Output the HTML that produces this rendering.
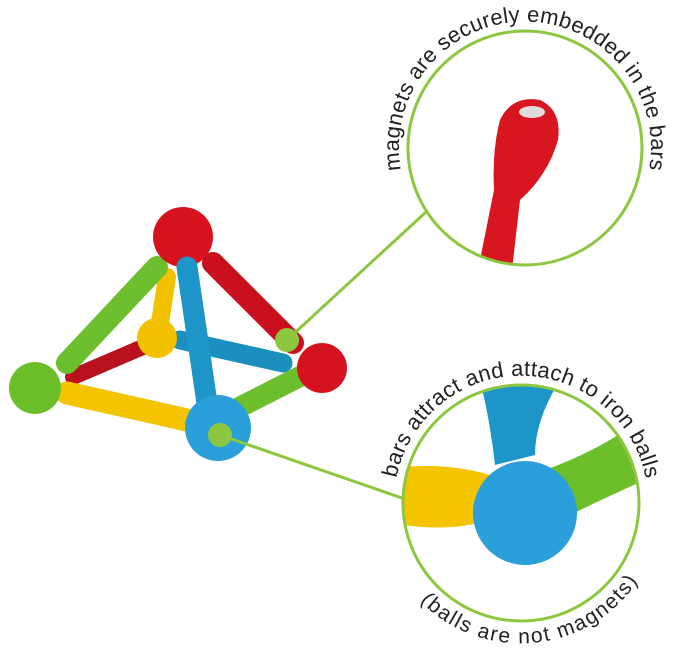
<!DOCTYPE html>
<html><head><meta charset="utf-8"><style>
html,body{margin:0;padding:0;background:#fff;}
svg{display:block;}
text{font-family:"Liberation Sans",sans-serif;fill:#222;}
</style></head><body>
<svg width="679" height="651" viewBox="0 0 679 651" xmlns="http://www.w3.org/2000/svg">
<defs>
<clipPath id="c1"><circle cx="525" cy="148" r="117"/></clipPath>
<clipPath id="c2"><circle cx="521" cy="503" r="118"/></clipPath>
<path id="p1" d="M 401 170 A 126 126 0 1 1 649 170"/>
<path id="p2" d="M 394.5 514 A 127 127 0 1 1 647.5 514"/>
<path id="p3" d="M 420 601 A 141 141 0 0 0 645 569"/>
</defs>
<g stroke-linecap="round" fill="none">
<line x1="167" y1="277" x2="160" y2="323" stroke="#f2c200" stroke-width="18"/>
<line x1="73" y1="377" x2="143" y2="347" stroke="#b8101c" stroke-width="16"/>
<line x1="180" y1="340" x2="283" y2="363" stroke="#1d8fbf" stroke-width="19"/>
</g>
<circle cx="157" cy="338" r="20" fill="#f2c200"/>
<g stroke-linecap="round" fill="none">
<line x1="157" y1="267" x2="67" y2="363" stroke="#6dbf2e" stroke-width="22"/>
<line x1="213" y1="263" x2="293" y2="343" stroke="#c8101e" stroke-width="22"/>
<line x1="67" y1="393" x2="187" y2="420" stroke="#f5c400" stroke-width="23"/>
<line x1="240" y1="407" x2="307" y2="373" stroke="#6dbf2e" stroke-width="21"/>
</g>
<circle cx="183" cy="237" r="30" fill="#d6121f"/>
<circle cx="322" cy="368" r="25" fill="#d6121f"/>
<circle cx="35" cy="388" r="26" fill="#6cbf2b"/>
<line x1="187" y1="267" x2="207" y2="403" stroke="#1d95c8" stroke-width="21" stroke-linecap="round"/>
<circle cx="218" cy="428" r="33" fill="#2a9fd9"/>
<line x1="287" y1="340" x2="426" y2="212" stroke="#8dc63f" stroke-width="3"/>
<line x1="220" y1="435" x2="402" y2="498" stroke="#8dc63f" stroke-width="3"/>
<circle cx="287" cy="340" r="12" fill="#8dc63f"/>
<circle cx="220" cy="435" r="12" fill="#8dc63f"/>
<g clip-path="url(#c1)">
<path d="M 478 270 L 494 190 Q 492 150 500 120 Q 512 95 540 100 Q 562 110 558 140 Q 548 175 520 200 L 512 270 Z" fill="#d8161f"/>
<ellipse cx="532" cy="112" rx="13" ry="6" fill="#ddd"/>
</g>
<circle cx="525" cy="148" r="117" fill="none" stroke="#8dc63f" stroke-width="3"/>
<g clip-path="url(#c2)">
<path d="M 480 380 L 560 380 Q 535 420 535 455 L 495 465 Q 490 420 480 380 Z" fill="#1d95c8"/>
<path d="M 570 380 L 640 400 L 620 440 Z" fill="#1d8fbf"/>
<path d="M 380 470 Q 440 460 490 475 L 490 520 Q 440 535 380 520 Z" fill="#f5c400"/>
<path d="M 545 470 Q 600 450 640 420 L 645 480 Q 600 500 560 520 Z" fill="#6cbf2b"/>
<circle cx="525" cy="513" r="52" fill="#2a9fd9"/>
</g>
<circle cx="521" cy="503" r="118" fill="none" stroke="#8dc63f" stroke-width="3"/>
<text font-size="22"><textPath href="#p1" textLength="440" lengthAdjust="spacing">magnets are securely embedded in the bars</textPath></text>
<text font-size="22"><textPath href="#p2" startOffset="36" textLength="350" lengthAdjust="spacing">bars attract and attach to iron balls</textPath></text>
<text font-size="21"><textPath href="#p3" textLength="250" lengthAdjust="spacing">(balls are not magnets)</textPath></text>
</svg>
</body></html>
